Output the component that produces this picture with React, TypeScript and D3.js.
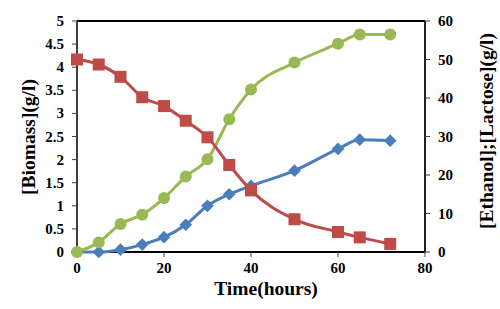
import React from "react";
import * as d3 from "d3";

const time = [0, 5, 10, 15, 20, 25, 30, 35, 40, 50, 60, 65, 72];
const biomass = [0, 0, 0.05, 0.16, 0.32, 0.59, 1.0, 1.25, 1.43, 1.76, 2.23, 2.43, 2.41];
const ethanol = [0, 2.5, 7.3, 9.7, 14.0, 19.6, 24.1, 34.5, 42.2, 49.2, 54.1, 56.5, 56.5];
const lactose = [50.0, 48.7, 45.5, 40.2, 37.9, 34.1, 29.8, 22.6, 16.0, 8.5, 5.2, 3.8, 2.1];

const xTicks = [0, 20, 40, 60, 80];
const leftTicks = [0, 0.5, 1, 1.5, 2, 2.5, 3, 3.5, 4, 4.5, 5];
const rightTicks = [0, 10, 20, 30, 40, 50, 60];

const W = 500, H = 309;
const L = 77, R = 425, T = 21, B = 252;
const FONT = "'Liberation Serif', 'Times New Roman', serif";

export default function App() {
  const x = d3.scaleLinear().domain([0, 80]).range([L, R]);
  const yL = d3.scaleLinear().domain([0, 5]).range([B, T]);
  const yR = d3.scaleLinear().domain([0, 60]).range([B, T]);
  const curve = d3.curveMonotoneX;

  const lineL = d3.line<number>().x((_, i) => x(time[i])).y((d) => yL(d)).curve(curve);
  const lineR = d3.line<number>().x((_, i) => x(time[i])).y((d) => yR(d)).curve(curve);

  const blue = "#4A7EBB", red = "#BE4B48", green = "#98B954";
  const tickFont = 15;

  return (
    <svg width={W} height={H} style={{ position: "absolute", left: 0, top: 0, background: "#fff" }}
      fontFamily={FONT}>
      {/* frame */}
      <line x1={L} x2={R} y1={T} y2={T} stroke="#000" strokeWidth={2} />
      <line x1={L} x2={R} y1={B} y2={B} stroke="#000" strokeWidth={2} />
      <line x1={L} x2={L} y1={T} y2={B} stroke="#404040" strokeWidth={2} />
      <line x1={R} x2={R} y1={T} y2={B} stroke="#202020" strokeWidth={2} />

      {xTicks.map((t) => (
        <g key={"x" + t}>
          <line x1={x(t)} x2={x(t)} y1={B} y2={B + 5} stroke="#404040" strokeWidth={1} />
          <text x={x(t)} y={B + 21} textAnchor="middle" fontSize={tickFont} fontWeight="bold">{t}</text>
        </g>
      ))}
      {leftTicks.map((t) => (
        <g key={"l" + t}>
          <line x1={L - 5} x2={L} y1={yL(t)} y2={yL(t)} stroke="#404040" strokeWidth={1} />
          <text x={L - 13} y={yL(t) + 5} textAnchor="end" fontSize={tickFont} fontWeight="bold">{t}</text>
        </g>
      ))}
      {rightTicks.map((t) => (
        <g key={"r" + t}>
          <line x1={R} x2={R + 5} y1={yR(t)} y2={yR(t)} stroke="#404040" strokeWidth={1} />
          <text x={R + 13} y={yR(t) + 5} textAnchor="start" fontSize={tickFont} fontWeight="bold">{t}</text>
        </g>
      ))}

      <text x={266} y={295} textAnchor="middle" fontSize={19.5} fontWeight="bold">Time(hours)</text>
      <text transform={`translate(35,137) rotate(-90)`} textAnchor="middle" fontSize={19.5} fontWeight="bold">[Biomass](g/l)</text>
      <text transform={`translate(493,131) rotate(-90)`} textAnchor="middle" fontSize={19.5} fontWeight="bold">[Ethanol];[Lactose](g/l)</text>

      {/* biomass */}
      <path d={lineL(biomass) || ""} fill="none" stroke={blue} strokeWidth={3} />
      {biomass.map((v, i) => (
        <rect key={"b" + i} x={-4.5} y={-4.5} width={9} height={9} fill={blue}
          transform={`translate(${x(time[i])},${yL(v)}) rotate(45)`} />
      ))}

      {/* ethanol */}
      <path d={lineR(ethanol) || ""} fill="none" stroke={green} strokeWidth={3} />
      {ethanol.map((v, i) => (
        <circle key={"e" + i} cx={x(time[i])} cy={yR(v)} r={6} fill={green} />
      ))}

      {/* lactose */}
      <path d={lineR(lactose) || ""} fill="none" stroke={red} strokeWidth={3} />
      {lactose.map((v, i) => (
        <rect key={"s" + i} x={x(time[i]) - 6} y={yR(v) - 6} width={12} height={12} fill={red} />
      ))}
    </svg>
  );
}
